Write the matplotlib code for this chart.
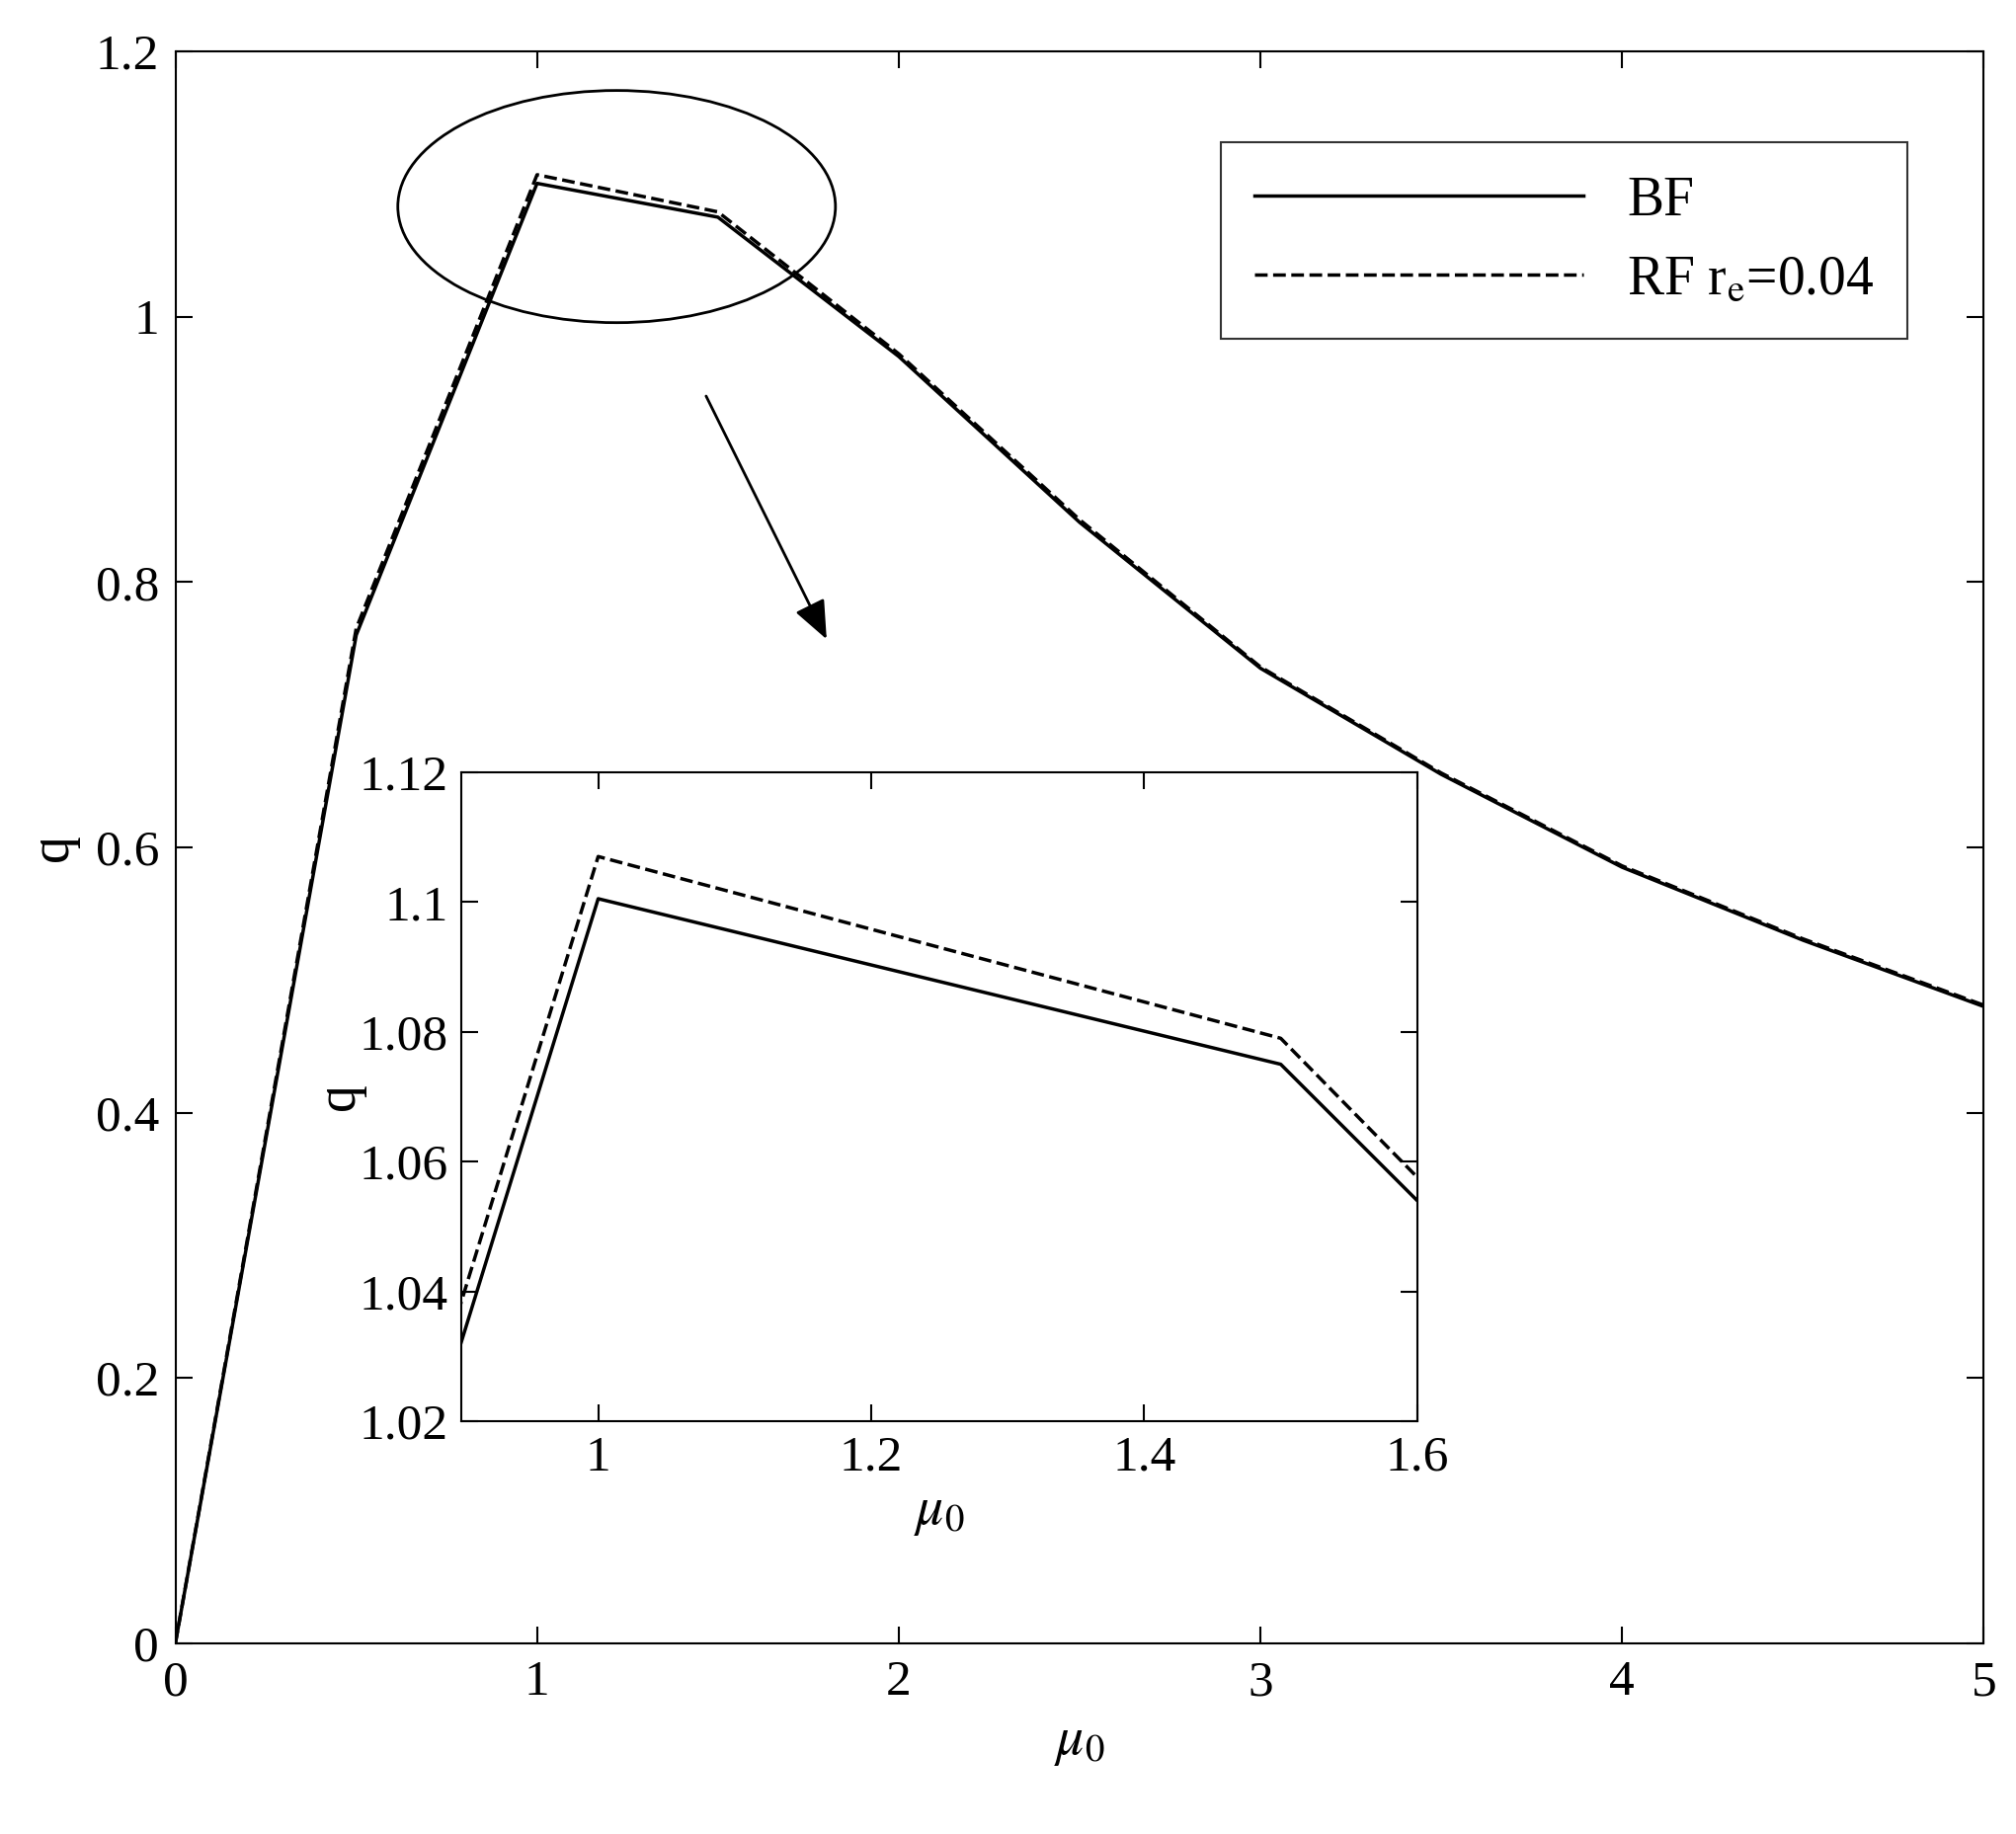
import matplotlib
matplotlib.use('Agg')
import matplotlib.pyplot as plt
from matplotlib.patches import Ellipse

plt.rcParams['font.family'] = ['Liberation Serif', 'DejaVu Serif']
plt.rcParams['mathtext.fontset'] = 'stix'

mu0 = [0, 0.5, 1.0, 1.5, 2.0, 2.5, 3.0, 3.5, 4.0, 4.5, 5.0]
q_bf = [0, 0.76, 1.1005, 1.075, 0.97, 0.845, 0.735, 0.655, 0.585, 0.53, 0.48]
q_rf = [0, 0.765, 1.107, 1.079, 0.972, 0.847, 0.736, 0.656, 0.586, 0.531, 0.481]

fig = plt.figure(figsize=(20.41, 18.57), dpi=100)
ax = fig.add_axes([0.087, 0.104, 0.897, 0.868])
ax.plot(mu0, q_bf, 'k-', lw=2.5, label='BF')
ax.plot(mu0, q_rf, 'k--', lw=2.5, label='RF r$_\\mathrm{e}$=0.04')
ax.set_xlim(0, 5)
ax.set_ylim(0, 1.2)
ax.set_xticks([0, 1, 2, 3, 4, 5])
ax.set_yticks([0, 0.2, 0.4, 0.6, 0.8, 1.0, 1.2])
ax.set_yticklabels(['0', '0.2', '0.4', '0.6', '0.8', '1', '1.2'])
ax.tick_params(direction='in', top=True, right=True, labelsize=37, length=12, width=1.5, pad=12)
for s in ax.spines.values():
    s.set_linewidth(1.5)
ax.set_xlabel('$\\mu_0$', fontsize=40, labelpad=8)
ax.set_ylabel('q', fontsize=40, labelpad=12)
leg = ax.legend(loc='upper right', fontsize=40, fancybox=False, edgecolor='k',
                handlelength=6, borderpad=0.6, bbox_to_anchor=(0.973, 0.96))
leg.get_frame().set_linewidth(1.5)

ax.add_patch(Ellipse((1.22, 1.083), 1.21, 0.175, fill=False, lw=2, ec='k'))
ax.annotate('', xy=(1.804, 0.755), xytext=(1.464, 0.942),
            arrowprops=dict(arrowstyle='-|>,head_length=2.4,head_width=1.0', lw=2, color='k'))

ins = fig.add_axes([0.229, 0.225, 0.474, 0.354])
ins.plot(mu0, q_bf, 'k-', lw=2.5)
ins.plot(mu0, q_rf, 'k--', lw=2.5)
ins.set_xlim(0.9, 1.6)
ins.set_ylim(1.02, 1.12)
ins.set_xticks([1, 1.2, 1.4, 1.6])
ins.set_xticklabels(['1', '1.2', '1.4', '1.6'])
ins.set_yticks([1.02, 1.04, 1.06, 1.08, 1.1, 1.12])
ins.set_yticklabels(['1.02', '1.04', '1.06', '1.08', '1.1', '1.12'])
ins.tick_params(direction='in', top=True, right=True, labelsize=37, length=12, width=1.5, pad=10)
for s in ins.spines.values():
    s.set_linewidth(1.5)
ins.set_xlabel('$\\mu_0$', fontsize=40)
ins.set_ylabel('q', fontsize=40, labelpad=-5)

fig.savefig('out.png')
